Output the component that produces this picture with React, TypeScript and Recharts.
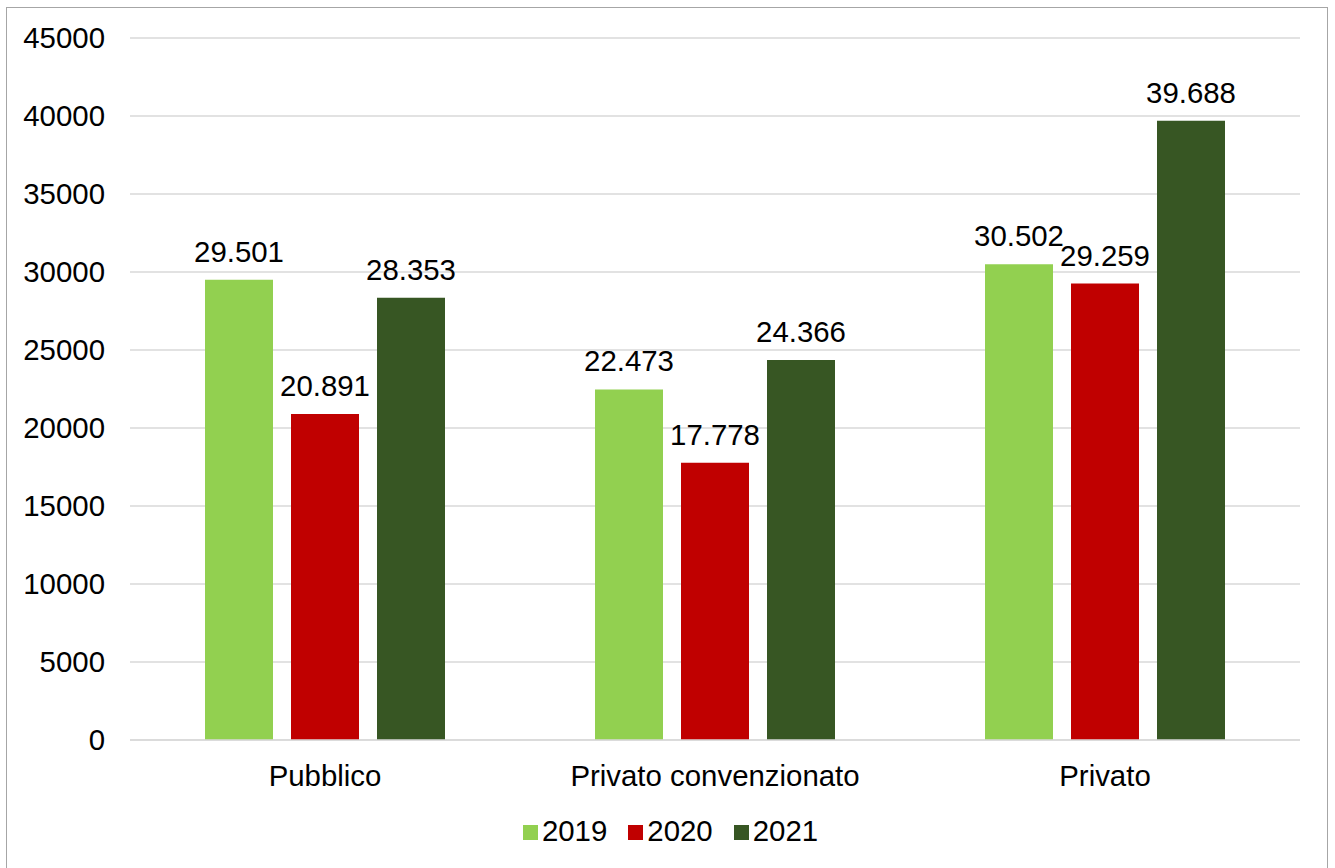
import React from "react";
import { BarChart, Bar, XAxis, YAxis, CartesianGrid, Legend, LabelList } from "recharts";

const categories = ["Pubblico", "Privato convenzionato", "Privato"];
const values2019 = [29501, 22473, 30502];
const values2020 = [20891, 17778, 29259];
const values2021 = [28353, 24366, 39688];
const yTicks = [0, 5000, 10000, 15000, 20000, 25000, 30000, 35000, 40000, 45000];
const seriesNames = ["2019", "2020", "2021"];
const seriesColors = ["#92D050", "#C00000", "#375623"];

const data = categories.map((c, i) => ({
  name: c,
  "2019": values2019[i],
  "2020": values2020[i],
  "2021": values2021[i],
}));

const FONT = "'Liberation Sans', Arial, sans-serif";
const FS = 29.4;

const fmt = (v: any) => {
  const s = String(Math.round(Number(v)));
  return s.replace(/\B(?=(\d{3})+(?!\d))/g, ".");
};

const LegendContent = () => (
  <div
    style={{
      display: "flex",
      justifyContent: "center",
      alignItems: "center",
      fontFamily: FONT,
      fontSize: FS,
      color: "#000",
      height: 32,
      paddingLeft: 6,
    }}
  >
    {seriesNames.map((n, i) => (
      <div key={n} style={{ display: "flex", alignItems: "center", marginRight: i < 2 ? 21 : 0 }}>
        <div style={{ width: 15, height: 15, background: seriesColors[i], marginRight: 4, marginTop: 2 }} />
        <span style={{ lineHeight: "32px" }}>{n}</span>
      </div>
    ))}
  </div>
);

export default function App() {
  return (
    <div style={{ position: "absolute", left: 0, top: 0, width: 1335, height: 868, background: "#fff", overflow: "hidden" }}>
      <div
        style={{
          position: "absolute",
          left: 6,
          top: 7,
          width: 1322,
          height: 880,
          border: "1.5px solid #A6A6A6",
          boxSizing: "border-box",
        }}
      />
      <div style={{ position: "absolute", left: 0, top: 0 }}>
        <BarChart
          width={1335}
          height={868}
          data={data}
          margin={{ top: 38, right: 35, left: 10, bottom: 66 }}
          barSize={68}
          barGap={18}
        >
          <CartesianGrid vertical={false} stroke="#D9D9D9" strokeWidth={1.3} />
          <XAxis
            dataKey="name"
            tickLine={false}
            axisLine={{ stroke: "#D9D9D9", strokeWidth: 1.5 }}
            tick={{ fontFamily: FONT, fontSize: FS, fill: "#000" }}
            tickSize={6}
            tickMargin={19}
            interval={0}
          />
          <YAxis
            width={120}
            domain={[0, 45000]}
            ticks={yTicks}
            tickLine={false}
            axisLine={false}
            tick={{ fontFamily: FONT, fontSize: FS, fill: "#000" }}
            tickSize={6}
            tickMargin={19}
            interval={0}
          />
          <Legend
            content={<LegendContent />}
            wrapperStyle={{ top: 815, left: 0, width: 1335 }}
          />
          {seriesNames.map((n, i) => (
            <Bar key={n} dataKey={n} fill={seriesColors[i]} isAnimationActive={false}>
              <LabelList
                dataKey={n}
                position="top"
                offset={18}
                formatter={fmt}
                style={{ fontFamily: FONT, fontSize: FS, fill: "#000" }}
              />
            </Bar>
          ))}
        </BarChart>
      </div>
    </div>
  );
}
